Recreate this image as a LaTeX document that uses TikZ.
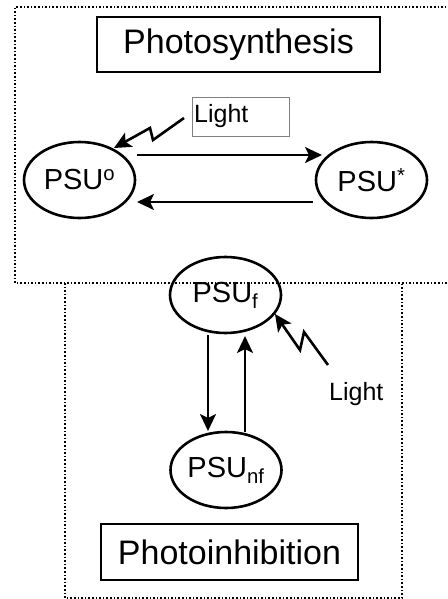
\documentclass[tikz,border=0pt]{standalone}
\usepackage{fontspec}
\setmainfont{Liberation Sans}
\usetikzlibrary{arrows.meta,shapes.geometric}
\tikzset{
  frame/.style={line width=1.6pt, dotted},
  titlebox/.style={draw, line width=2.6pt, minimum width=283pt, minimum height=55pt, inner sep=0pt, font=\fontsize{34}{38}\selectfont},
  state/.style={draw, ellipse, line width=2.6pt, minimum width=111pt, minimum height=76pt, inner sep=0pt, font=\fontsize{29}{32}\selectfont},
  arr/.style={line width=2.6pt, -{Stealth[length=17pt,width=16pt,inset=4pt]}},
  bolt/.style={line width=2.6pt, -{Stealth[length=17pt,width=16pt,inset=4pt]}},
  lighttxt/.style={font=\fontsize{25}{28}\selectfont, inner sep=0pt}
}
\begin{document}
\begin{tikzpicture}[x=1pt,y=-1pt]
\useasboundingbox (0,0) rectangle (447,599);
% frames
\draw[frame] (450,7) -- (15,7) -- (15,283) -- (450,283);
\draw[frame] (65,283) -- (65,598) -- (402,598) -- (402,283);
% titles
\node[titlebox, minimum width=283pt] (ps) at (238.5,44.5) {Photosynthesis};
\node[titlebox, minimum width=257pt, minimum height=56pt] (pi) at (229.5,552) {Photoinhibition};
% states
\node[state] (p0) at (79.5,180) {PSU\textsuperscript{o}};
\node[state] (ps1) at (371.5,180) {PSU\textsuperscript{*}};
\node[state] (pf) at (225.5,295) {PSU\textsubscript{f}};
\node[state] (pnf) at (226,470) {PSU\textsubscript{nf}};
% top light
\node[draw=gray, line width=0.8pt, minimum width=97pt, minimum height=39pt, inner sep=0pt] (lbox) at (240.5,116.5) {};
\node[lighttxt, anchor=west] (l1) at (194,116) {Light};
% horizontal arrows
\coordinate (a1s) at (137,155);
\coordinate (a1e) at (322,155);
\coordinate (a2s) at (313,202);
\coordinate (a2e) at (137,202);
\draw[arr] (a1s) -- (a1e);
\draw[arr] (a2s) -- (a2e);
% vertical arrows
\coordinate (v1s) at (208,335);
\coordinate (v1e) at (208,431);
\coordinate (v2s) at (245,432);
\coordinate (v2e) at (245,336);
\draw[arr] (v1s) -- (v1e);
\draw[arr] (v2s) -- (v2e);
% bolts
\coordinate (b1) at (184,118);
\coordinate (b1t) at (114,148);
\draw[bolt] (b1) -- (153,140) -- (150,128) -- (b1t);
\coordinate (b2) at (328,365);
\coordinate (b2t) at (275,314);
\draw[bolt] (b2) -- (304,332) -- (300,350) -- (b2t);
\node[lighttxt, anchor=west] (l2) at (329,394) {Light};
\end{tikzpicture}
\end{document}
